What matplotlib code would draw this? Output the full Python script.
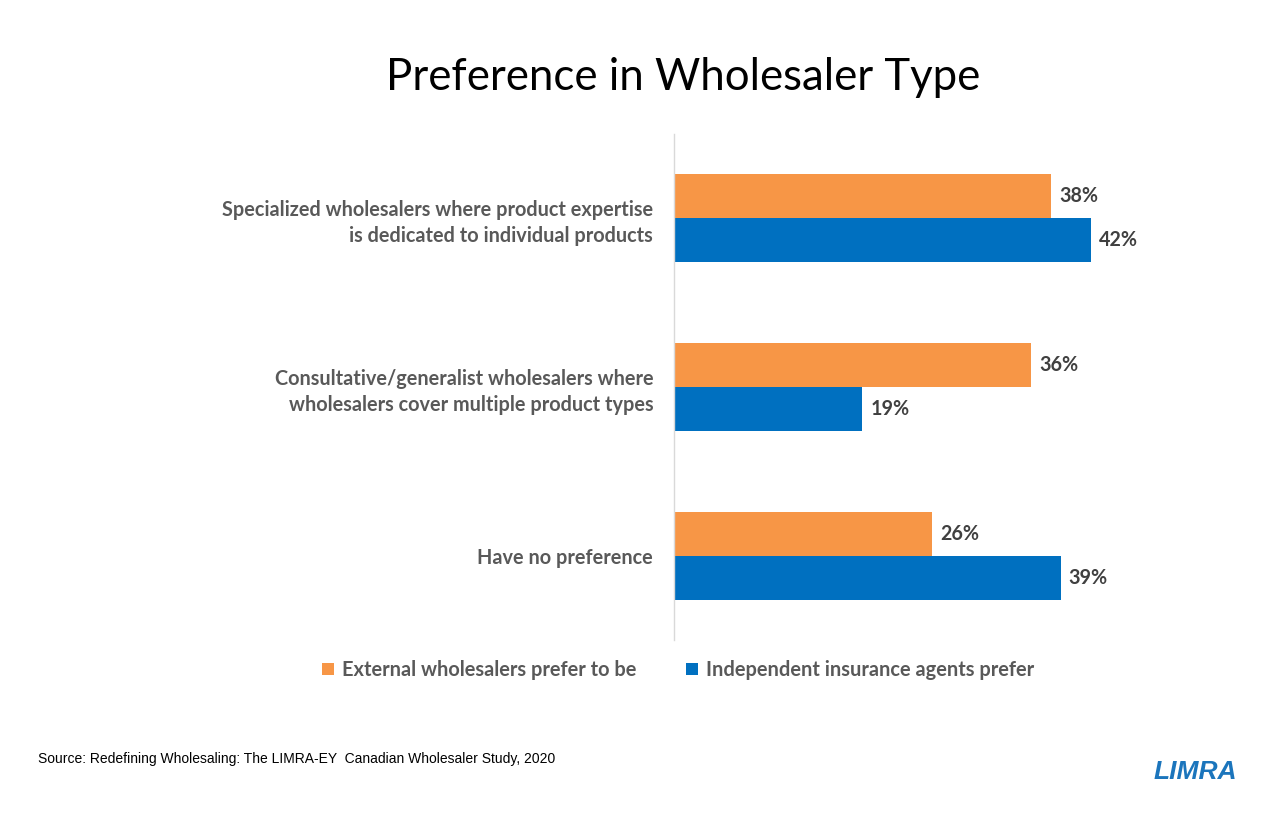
import matplotlib
matplotlib.use("Agg")
import matplotlib.pyplot as plt

categories = [
    "Specialized wholesalers where product expertise\nis dedicated to individual products",
    "Consultative/generalist wholesalers where\nwholesalers cover multiple product types",
    "Have no preference",
]
external = [38, 36, 26]
independent = [42, 19, 39]
series_names = ["External wholesalers prefer to be", "Independent insurance agents prefer"]
colors = ["#F79646", "#0070C0"]

plt.rcParams['font.family'] = ['Lato', 'DejaVu Sans']

fig = plt.figure(figsize=(12.8, 8.16), dpi=100)
ax = fig.add_axes([674/1280, (816-640)/816, 496/1280, 506/816])

h = 0.26
ys = list(range(len(categories)))
b1 = ax.barh([y - h/2 for y in ys], external, height=h, color=colors[0], label=series_names[0])
b2 = ax.barh([y + h/2 for y in ys], independent, height=h, color=colors[1], label=series_names[1])

for bars, vals in ((b1, external), (b2, independent)):
    for bar, v in zip(bars, vals):
        ax.text(bar.get_width() + 0.8, bar.get_y() + bar.get_height()/2, f"{v}%",
                va='center', ha='left', fontsize=14.2, fontweight='bold', color='#404040')

ax.set_xlim(0, 50)
ax.set_ylim(2.5, -0.5)
ax.set_yticks(ys)
ax.set_yticklabels(categories, fontsize=14.3, fontweight='bold', color='#595959', ha='right',
                   multialignment='right', linespacing=1.35)
ax.tick_params(axis='y', length=0, pad=15)
ax.set_xticks([])
for s in ['top', 'right', 'bottom']:
    ax.spines[s].set_visible(False)
ax.spines['left'].set_color('#D9D9D9')
ax.spines['left'].set_linewidth(1)

fig.text(683/1280, 1 - 77/816, "Preference in Wholesaler Type", ha='center', va='center', fontsize=31.5, color='black')

leg = fig.legend(handles=[b1, b2], labels=series_names, loc='center', bbox_to_anchor=(678/1280, 1 - 670/816),
                 ncol=2, frameon=False, fontsize=14.4, handlelength=0.6, handleheight=0.6,
                 handletextpad=0.4, columnspacing=2.5)
for t in leg.get_texts():
    t.set_color('#595959')
    t.set_fontweight('bold')

fig.text(38/1280, 1 - 759/816, "Source: Redefining Wholesaling: The LIMRA-EY  Canadian Wholesaler Study, 2020",
         ha='left', va='center', fontsize=10, color='black', family='Liberation Sans')

fig.text(1195/1280, 1 - 772/816, "LIMRA", ha='center', va='center', fontsize=19, fontweight='heavy',
         color='#1B75BC', family='Liberation Sans', style='italic')

fig.savefig("out.png", dpi=100)
